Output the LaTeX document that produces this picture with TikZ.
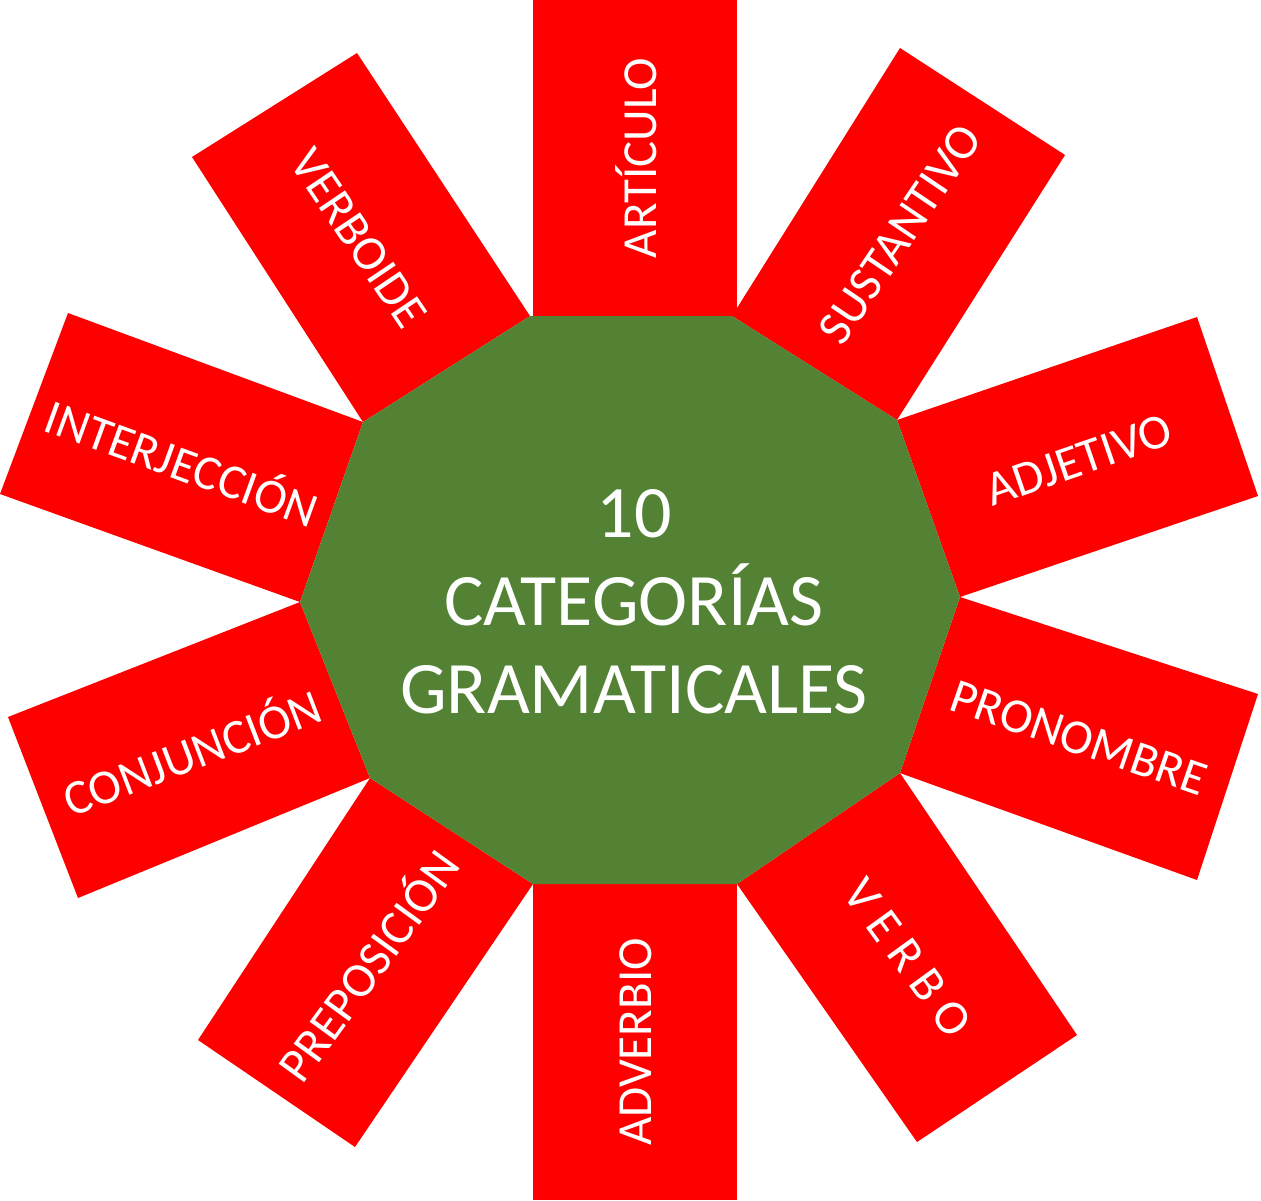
\documentclass[tikz,border=0pt]{standalone}
\usepackage{fontspec}
\setmainfont{Carlito}
\definecolor{rayred}{HTML}{FF0000}
\definecolor{hubgreen}{HTML}{548235}
\begin{document}
\begin{tikzpicture}[x=0.5pt,y=-0.5pt,
  ray/.style={fill=rayred},
  hub/.style={fill=hubgreen},
  raylabel/.style={text=white,font=\fontsize{24.5}{29}\selectfont,inner sep=0pt},
  hublabel/.style={text=white,font=\fontsize{37}{44}\selectfont,align=center,inner sep=0pt}]
\useasboundingbox (0,0) rectangle (1261,1200);
% decagon vertices
\coordinate (D0) at (960,597);
\coordinate (D1) at (897,420);
\coordinate (D2) at (732,316);
\coordinate (D3) at (530,316);
\coordinate (D4) at (363,422);
\coordinate (D5) at (300,602);
\coordinate (D6) at (370,778);
\coordinate (D7) at (533,884);
\coordinate (D8) at (737,884);
\coordinate (D9) at (900,773);
% outer corners of rays
\coordinate (A1) at (533,0);   \coordinate (A2) at (737,0);
\coordinate (S1) at (900,48);  \coordinate (S2) at (1065,155);
\coordinate (J1) at (1197,317);\coordinate (J2) at (1258,496);
\coordinate (P1) at (1258,694);\coordinate (P2) at (1197,880);
\coordinate (V1) at (1077,1035);\coordinate (V2) at (917,1142);
\coordinate (B1) at (737,1200);\coordinate (B2) at (533,1200);
\coordinate (R1) at (355,1147);\coordinate (R2) at (198,1040);
\coordinate (C1) at (78,898);  \coordinate (C2) at (8,717);
\coordinate (I1) at (0,494);   \coordinate (I2) at (68,313);
\coordinate (W1) at (192,157); \coordinate (W2) at (357,53);
% rays
\fill[ray] (533,316) -- (A1) -- (A2) -- (737,316) -- cycle;
\fill[ray] (D2) -- (S1) -- (S2) -- (D1) -- cycle;
\fill[ray] (D1) -- (J1) -- (J2) -- (D0) -- cycle;
\fill[ray] (D0) -- (P1) -- (P2) -- (D9) -- cycle;
\fill[ray] (D9) -- (V1) -- (V2) -- (D8) -- cycle;
\fill[ray] (D8) -- (B1) -- (B2) -- (D7) -- cycle;
\fill[ray] (D7) -- (R1) -- (R2) -- (D6) -- cycle;
\fill[ray] (D6) -- (C1) -- (C2) -- (D5) -- cycle;
\fill[ray] (D5) -- (I1) -- (I2) -- (D4) -- cycle;
\fill[ray] (D4) -- (W1) -- (W2) -- (D3) -- cycle;
% hub
\fill[hub] (D0) -- (D1) -- (D2) -- (D3) -- (D4) -- (D5) -- (D6) -- (D7) -- (D8) -- (D9) -- cycle;
% labels
\node[raylabel,rotate=90]  (art) at (636,158) {ARTÍCULO};
\node[raylabel,rotate=56]  (sus) at (900,234) {SUSTANTIVO};
\node[raylabel,rotate=19]  (adj) at (1079,460) {ADJETIVO};
\node[raylabel,rotate=-19] (pro) at (1079,738) {PRONOMBRE};
\node[raylabel,rotate=-54] (ver) at (908,958) {V E R B O};
\node[raylabel,rotate=90]  (adv) at (636,1042) {ADVERBIO};
\node[raylabel,rotate=54]  (pre) at (366,964) {PREPOSICIÓN};
\node[raylabel,rotate=21]  (con) at (191,750) {CONJUNCIÓN};
\node[raylabel,rotate=-20] (int) at (183,460) {INTERJECCIÓN};
\node[raylabel,rotate=-56] (vbd) at (359,238) {VERBOIDE};
\node[hublabel] (hubtext) at (634,602) {10\\CATEGORÍAS\\GRAMATICALES};
\end{tikzpicture}
\end{document}
